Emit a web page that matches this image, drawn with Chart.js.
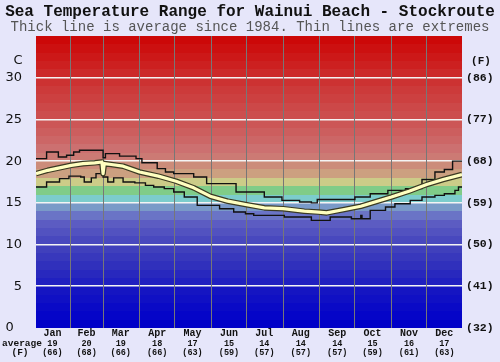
<!DOCTYPE html>
<html>
<head>
<meta charset="utf-8">
<script src="https://cdn.jsdelivr.net/npm/chart.js@4/dist/chart.umd.min.js"></script>
<style>
  html, body { margin: 0; padding: 0; background: #e6e6fa; }
  canvas { display: block; }
</style>
</head>
<body>
<canvas id="c" width="500" height="362"></canvas>
<script>
// ---- data ----
const months = ["Jan","Feb","Mar","Apr","May","Jun","Jul","Aug","Sep","Oct","Nov","Dec"];
const monthAvgC = [19,20,19,18,17,15,14,14,14,15,16,17];
const monthAvgF = [66,68,66,66,63,59,57,57,57,59,61,63];
const monthStartDays = [31,59,90,120,151,181,212,243,273,304,334];
const monthMidDays = [16,45,74,105,135,166,196,227,258,288,319,349];

const avgDays  = [2,12,22,32,42,52,58,59,60,66,76,90,106,121,136,150,165,180,196,212,230,242,249,264,278,304,319,334,348,364];
const avgTemps = [18.5,18.9,19.2,19.5,19.7,19.8,19.9,18.5,19.7,19.6,19.4,18.7,18.2,17.6,16.8,15.8,15.2,14.8,14.4,14.3,14.0,13.9,13.8,14.2,14.6,15.7,16.4,17.2,17.8,18.4];

const maxDays  = [2,11,21,28,34,39,59,61,73,87,92,105,112,119,136,147,172,196,211,226,236,241,273,286,301,316,330,341,349,356,364];
const maxTemps = [20.3,21.1,20.5,20.7,21.1,21.3,20.4,20.9,20.6,20.3,19.8,19.1,18.7,18.5,18.1,17.3,16.3,15.7,15.3,15.1,15.0,15.4,15.7,16.1,16.5,16.7,17.8,18.7,19.0,20.0,20.0];

const minDays  = [2,11,22,30,40,43,49,53,59,63,68,76,86,95,102,111,119,128,139,158,170,180,187,213,236,252,270,278,279,286,299,307,320,330,341,349,358,361,364];
const minTemps = [16.9,17.5,17.9,18.2,18.1,17.5,18.0,18.5,18.1,17.5,18.0,17.5,17.4,17.1,16.9,16.7,16.3,15.7,14.7,14.3,13.9,13.7,13.5,13.3,12.9,13.3,13.1,13.5,13.1,14.1,14.5,14.9,15.3,15.7,15.9,16.1,16.5,16.9,16.9];

const bandColors = [
  "#0000c8","#0505c8","#0a0ac6","#1010c4","#1515c2",
  "#2020c0","#2828be","#3030bc","#3838bc","#4040bc",
  "#4848be","#5252c0","#5c5cc2","#6a74c6","#7a9ac8",
  "#7ccccc","#80cc88","#cccc88","#cca080","#cc8c7a",
  "#cc7a74","#cc7070","#cc6666","#cc5e5e","#cc5656",
  "#cc4e4e","#cc4848","#cc4040","#cc3a3a","#cc3232",
  "#cc2a2a","#cc2020","#cc1818","#cc1010","#cc0808"
];

const pts = (xs, ys) => xs.map((x, i) => ({ x: x, y: ys[i] }));
const MONO = '"Liberation Mono", "Courier New", monospace';
const SANS = '"DejaVu Sans", sans-serif';

const bandsPlugin = {
  id: 'bands',
  beforeDraw(chart) {
    const { ctx, chartArea } = chart;
    const y = chart.scales.y;
    ctx.save();
    for (let i = 0; i < bandColors.length; i++) {
      const top = Math.round(y.getPixelForValue(i + 1));
      const bot = Math.round(y.getPixelForValue(i));
      ctx.fillStyle = bandColors[i];
      ctx.fillRect(chartArea.left, top, chartArea.right - chartArea.left, bot - top);
    }
    ctx.restore();
  },
  afterDraw(chart) {
    const { ctx } = chart;
    const y = chart.scales.y;
    ctx.save();
    ctx.fillStyle = '#111';
    ctx.textBaseline = 'middle';
    ctx.textAlign = 'center';
    ctx.font = '13px ' + SANS;
    ctx.fillText('C', 18, y.getPixelForValue(32));
    ctx.font = 'bold 11px ' + MONO;
    ctx.fillText('(F)', 481, y.getPixelForValue(32));
    ctx.font = 'bold 9.5px ' + MONO;
    ctx.fillText('average', 22, 344);
    ctx.fillText('(F)', 20, 353);
    ctx.restore();
  }
};

new Chart(document.getElementById('c'), {
  type: 'line',
  data: {
    datasets: [
      { data: pts(avgDays, avgTemps), borderColor: '#ffffc0', borderWidth: 3.2, borderJoinStyle: 'round', pointRadius: 0, tension: 0, xAxisID: 'xg', yAxisID: 'y' },
      { data: pts(avgDays, avgTemps), borderColor: '#3a3a22', borderWidth: 5.6, borderJoinStyle: 'round', pointRadius: 0, tension: 0, xAxisID: 'xg', yAxisID: 'y' },
      { data: pts(maxDays, maxTemps), borderColor: '#111111', borderWidth: 1.4, pointRadius: 0, stepped: true, xAxisID: 'xg', yAxisID: 'y' },
      { data: pts(minDays, minTemps), borderColor: '#111111', borderWidth: 1.4, pointRadius: 0, stepped: true, xAxisID: 'xg', yAxisID: 'y' }
    ]
  },
  options: {
    responsive: false,
    animation: false,
    devicePixelRatio: 1,
    layout: { padding: 0 },
    plugins: {
      legend: { display: false },
      tooltip: { enabled: false },
      title: {
        display: true,
        text: 'Sea Temperature Range for Wainui Beach - Stockroute',
        color: '#111',
        font: { family: MONO, size: 16, weight: 'bold', lineHeight: 1.1 },
        padding: { top: 3, bottom: 0 }
      },
      subtitle: {
        display: true,
        text: 'Thick line is average since 1984. Thin lines are extremes',
        color: '#555',
        font: { family: MONO, size: 14, weight: 'normal', lineHeight: 1.0 },
        padding: { top: 0, bottom: 1.4 }
      }
    },
    scales: {
      y: {
        type: 'linear', position: 'left', min: 0, max: 35,
        afterBuildTicks: (s) => { s.ticks = [0,5,10,15,20,25,30].map(v => ({ value: v })); },
        afterFit: (s) => { s.width = 36; },
        grid: {
          drawTicks: false,
          color: (c) => (c.tick && c.tick.value > 0 && c.tick.value < 35) ? '#f4f4f4' : 'rgba(0,0,0,0)',
          lineWidth: 1.6
        },
        border: { display: false },
        ticks: {
          padding: 14, color: '#111',
          font: { family: SANS, size: 13 },
          callback: (v) => v === 0 ? '0  ' : String(v)
        }
      },
      y2: {
        type: 'linear', position: 'right', min: 0, max: 35,
        afterBuildTicks: (s) => { s.ticks = [0,5,10,15,20,25,30].map(v => ({ value: v })); },
        afterFit: (s) => { s.width = 38; },
        grid: { display: false, drawTicks: false },
        border: { display: false },
        ticks: {
          padding: 4, color: '#111',
          font: { family: MONO, size: 11.5, weight: 'bold' },
          callback: (v) => '(' + Math.round(v * 9 / 5 + 32) + ')'
        }
      },
      xg: {
        type: 'linear', position: 'bottom', min: 2, max: 364, weight: 0,
        afterBuildTicks: (s) => { s.ticks = monthStartDays.map(v => ({ value: v })); },
        afterFit: (s) => { s.height = 0; },
        grid: { color: '#777777', lineWidth: 1, drawTicks: false },
        border: { display: false },
        ticks: { display: false }
      },
      xm: {
        type: 'linear', position: 'bottom', min: 2, max: 364, weight: 1,
        afterBuildTicks: (s) => { s.ticks = monthMidDays.map(v => ({ value: v })); },
        afterFit: (s) => { s.height = 11; },
        grid: { display: false, drawTicks: false },
        border: { display: false },
        ticks: {
          padding: 0, autoSkip: false, maxRotation: 0, color: '#111',
          font: { family: MONO, size: 10, weight: 'bold', lineHeight: 1.1 },
          callback: (v, i) => months[i]
        }
      },
      xa: {
        type: 'linear', position: 'bottom', min: 2, max: 364, weight: 2,
        afterBuildTicks: (s) => { s.ticks = monthMidDays.map(v => ({ value: v })); },
        afterFit: (s) => { s.height = 23; },
        grid: { display: false, drawTicks: false },
        border: { display: false },
        ticks: {
          padding: 0.5, autoSkip: false, maxRotation: 0, color: '#111',
          font: { family: MONO, size: 8.5, weight: 'bold', lineHeight: 1.05 },
          callback: (v, i) => [String(monthAvgC[i]), '(' + monthAvgF[i] + ')']
        }
      }
    }
  },
  plugins: [bandsPlugin]
});
</script>
</body>
</html>
